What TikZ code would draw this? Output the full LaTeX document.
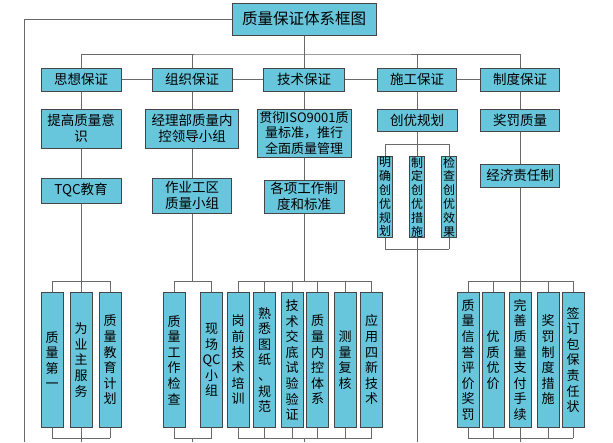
\documentclass[tikz,border=0pt]{standalone}
\usepackage{fontspec}
\setmainfont{Noto Sans CJK SC}
\usetikzlibrary{calc}

\definecolor{boxfill}{RGB}{104,198,220}
\definecolor{boxline}{RGB}{70,70,70}
\definecolor{linkgray}{RGB}{105,105,105}

\tikzset{
  box/.style={draw=boxline, fill=boxfill, line width=1pt, inner sep=0pt,
              align=center, font=\fontsize{13.5}{16.5}\selectfont},
  head/.style={box, minimum width=80, minimum height=23},
  tallbox/.style={box, anchor=north, minimum width=22, minimum height=135,
                  font=\fontsize{13}{15.6}\selectfont},
  thinbox/.style={box, anchor=north, minimum width=15.5, minimum height=81,
                  font=\fontsize{12}{13.8}\selectfont},
  link/.style={draw=linkgray, line width=0.9pt},
}

\begin{document}
\begin{tikzpicture}[x=1pt,y=-1pt]
\def\bt{281} % top bracket of the tall boxes
\def\bb{438} % bottom bracket of the tall boxes
\def\tb{292} % top of the tall boxes
\useasboundingbox (0,0) rectangle (613,442);

% title and the five guarantees
\node[box, minimum width=144, minimum height=32,
      font=\fontsize{15.5}{18}\selectfont] (title) at (304,19) {质量保证体系框图};
\node[head] (sx) at (81,79.5) {思想保证};
\node[head] (zz) at (192,79.5) {组织保证};
\node[head, minimum width=81] (js) at (304,79.5) {技术保证};
\node[head, minimum width=79] (sg) at (417,79.5) {施工保证};
\node[head, minimum width=79] (zd) at (520,79.5) {制度保证};

\coordinate (bus) at (304,54);
\coordinate (corner) at (24,19);
\coordinate (leftend) at (24,442);
\draw[link] (title.west) -- (corner) -- (leftend);
\draw[link] (title.south) -- (bus);
\draw[link] (sx.north) |- (bus) -| (zd.north);
\foreach \n in {zz,js,sg}
  \draw[link] (\n.north) -- (\n.north |- bus);
\draw[link] (sx.east) -- (zz.west);
\draw[link] (zz.east) -- (js.west);
\draw[link] (js.east) -- (sg.west);
\draw[link] (sg.east) -- (zd.west);

% second and third row
\node[box, minimum width=80, minimum height=39] (tg) at (81,128.5) {提高质量意\\识};
\node[box, minimum width=80, minimum height=25] (tqc) at (81,190.5) {TQC教育};
\node[box, minimum width=93, minimum height=39] (jl) at (192,128.5) {经理部质量内\\控领导小组};
\node[box, minimum width=79, minimum height=35] (zy) at (192,195.5) {作业工区\\质量小组};
\node[box, minimum width=94, minimum height=48,
      font=\fontsize{13}{15.2}\selectfont] (gc) at (304,133) {贯彻ISO9001质\\量标准，推行\\全面质量管理};
\node[box, minimum width=80, minimum height=33] (gx) at (304,196.5) {各项工作制\\度和标准};
\node[box, minimum width=80, minimum height=22] (cy) at (417,120) {创优规划};
\node[box, minimum width=79, minimum height=22] (jf) at (520,120) {奖罚质量};
\node[box, minimum width=79, minimum height=23] (jj) at (520,175.5) {经济责任制};

\draw[link] (sx.south) -- (tg.north);
\draw[link] (tg.south) -- (tqc.north);
\draw[link] (zz.south) -- (jl.north);
\draw[link] (jl.south) -- (zy.north);
\draw[link] (js.south) -- (gc.north);
\draw[link] (gc.south) -- (gx.north);
\draw[link] (sg.south) -- (cy.north);
\draw[link] (zd.south) -- (jf.north);
\draw[link] (jf.south) -- (jj.north);

% bracket points of each group
\coordinate (sxtop) at (81,\bt);  \coordinate (sxbot) at (81,\bb);  \coordinate (sxend) at (81,442);
\coordinate (zztop) at (192,\bt); \coordinate (zzbot) at (192,\bb); \coordinate (zzend) at (192,442);
\coordinate (jstop) at (304,\bt); \coordinate (jsbot) at (304,\bb); \coordinate (jsend) at (304,442);
\coordinate (sgtop) at (417,144); \coordinate (sgbot) at (417,249); \coordinate (sgend) at (417,442);
\coordinate (zdtop) at (520,\bt); \coordinate (zdbot) at (520,\bb); \coordinate (zdend) at (520,442);

\draw[link] (tqc.south) -- (sxtop);
\draw[link] (zy.south) -- (zztop);
\draw[link] (gx.south) -- (jstop);
\draw[link] (cy.south) -- (sgtop);
\draw[link] (jj.south) -- (zdtop);
\foreach \g in {sx,zz,js,sg,zd}
  \draw[link] (\g bot) -- (\g end);

% tall boxes
\foreach \x/\t [count=\i] in {52/{质\\量\\第\\一}, 81/{为\\业\\主\\服\\务},
                              110/{质\\量\\教\\育\\计\\划}}
{
  \node[tallbox] (sxb\i) at (\x,\tb) {\t};
  \draw[link] (sxb\i.north) -- (sxb\i.north |- sxtop);
  \draw[link] (sxb\i.south) -- (sxb\i.south |- sxbot);
}
\draw[link] (sxb1.north |- sxtop) -- (sxb3.north |- sxtop);
\draw[link] (sxb1.south |- sxbot) -- (sxb3.south |- sxbot);

\foreach \x/\t [count=\i] in {174/{质\\量\\工\\作\\检\\查}, 211.5/{现\\场\\QC\\小\\组}}
{
  \node[tallbox] (zzb\i) at (\x,\tb) {\t};
  \draw[link] (zzb\i.north) -- (zzb\i.north |- zztop);
  \draw[link] (zzb\i.south) -- (zzb\i.south |- zzbot);
}
\draw[link] (zzb1.north |- zztop) -- (zzb2.north |- zztop);
\draw[link] (zzb1.south |- zzbot) -- (zzb2.south |- zzbot);

\foreach \x/\t [count=\i] in {238/{岗\\前\\技\\术\\培\\训}, 264.5/{熟\\悉\\图\\纸\\、\\规\\范},
                              292/{技\\术\\交\\底\\试\\验\\验\\证}, 317.5/{质\\量\\内\\控\\体\\系},
                              345/{测\\量\\复\\核}, 371.5/{应\\用\\四\\新\\技\\术}}
{
  \node[tallbox] (jsb\i) at (\x,\tb) {\t};
  \draw[link] (jsb\i.north) -- (jsb\i.north |- jstop);
  \draw[link] (jsb\i.south) -- (jsb\i.south |- jsbot);
}
\draw[link] (jsb1.north |- jstop) -- (jsb6.north |- jstop);
\draw[link] (jsb1.south |- jsbot) -- (jsb6.south |- jsbot);

\foreach \x/\t [count=\i] in {385/{明\\确\\创\\优\\规\\划}, 417/{制\\定\\创\\优\\措\\施},
                              449/{检\\查\\创\\优\\效\\果}}
{
  \node[thinbox] (sgb\i) at (\x,156) {\t};
  \draw[link] (sgb\i.north) -- (sgb\i.north |- sgtop);
  \draw[link] (sgb\i.south) -- (sgb\i.south |- sgbot);
}
\draw[link] (sgb1.north |- sgtop) -- (sgb3.north |- sgtop);
\draw[link] (sgb1.south |- sgbot) -- (sgb3.south |- sgbot);

\foreach \x/\t [count=\i] in {468/{质\\量\\信\\誉\\评\\价\\奖\\罚}, 493/{优\\质\\优\\价},
                              520/{完\\善\\质\\量\\支\\付\\手\\续}, 548/{奖\\罚\\制\\度\\措\\施},
                              573/{签\\订\\包\\保\\责\\任\\状}}
{
  \node[tallbox] (zdb\i) at (\x,\tb) {\t};
  \draw[link] (zdb\i.north) -- (zdb\i.north |- zdtop);
  \draw[link] (zdb\i.south) -- (zdb\i.south |- zdbot);
}
\draw[link] (zdb1.north |- zdtop) -- (zdb5.north |- zdtop);
\draw[link] (zdb1.south |- zdbot) -- (zdb5.south |- zdbot);
\end{tikzpicture}
\end{document}
